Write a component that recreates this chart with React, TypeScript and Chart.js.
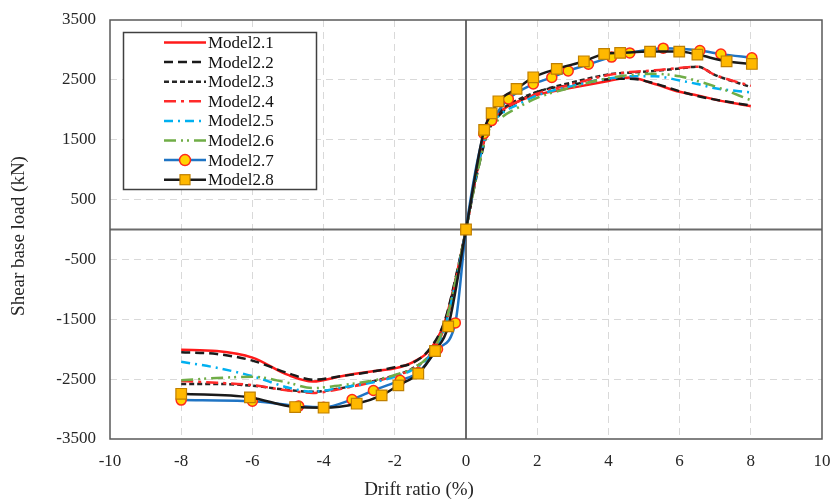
import React, { useEffect, useRef } from "react";
import { Chart, registerables } from "chart.js";

Chart.register(...registerables);

// Shared drift grid for the plain-line models (%)
const driftLines = [-8, -7, -6, -5, -4.3, -3.5, -2.5, -2, -1.5, -1, -0.6, -0.3, 0, 0.3, 0.6, 1, 1.5, 2, 3, 4, 4.6, 5.3, 6, 6.5, 7, 8];

const model21 = [-2010, -2030, -2140, -2430, -2540, -2450, -2360, -2320, -2220, -2000, -1550, -850, 0, 950, 1650, 1980, 2150, 2250, 2370, 2480, 2540, 2430, 2300, 2240, 2170, 2060];
const model22 = [-2050, -2080, -2190, -2400, -2510, -2450, -2360, -2300, -2230, -1980, -1530, -830, 0, 900, 1600, 1950, 2150, 2300, 2420, 2510, 2520, 2440, 2310, 2230, 2170, 2070];
const model23 = [-2580, -2580, -2610, -2680, -2710, -2650, -2520, -2440, -2320, -2080, -1600, -880, 0, 950, 1700, 2000, 2180, 2300, 2460, 2590, 2620, 2650, 2690, 2720, 2580, 2380];
const model24 = [-2530, -2560, -2600, -2690, -2730, -2660, -2530, -2450, -2330, -2090, -1620, -900, 0, 950, 1700, 1980, 2150, 2270, 2430, 2580, 2630, 2660, 2700, 2720, 2580, 2400];
const model25 = [-2210, -2310, -2450, -2640, -2710, -2640, -2540, -2460, -2340, -2100, -1650, -900, 0, 950, 1650, 1930, 2100, 2240, 2400, 2520, 2560, 2560, 2490, 2430, 2360, 2290];
const model26 = [-2520, -2480, -2460, -2560, -2650, -2600, -2510, -2430, -2320, -2080, -1600, -880, 0, 900, 1600, 1870, 2050, 2200, 2380, 2530, 2580, 2600, 2560, 2480, 2390, 2160];

// Marker models
const drift27 = [-8, -6, -4.7, -4, -3.2, -2.6, -1.85, -1.34, -0.8, -0.3, 0, 0.5, 0.72, 1.19, 1.89, 2.41, 2.87, 3.44, 4.09, 4.6, 5.54, 6.57, 7.16, 8.03];
const model27 = [-2850, -2870, -2950, -2970, -2840, -2690, -2520, -2390, -2000, -1560, 0, 1600, 1820, 2180, 2430, 2540, 2650, 2760, 2880, 2950, 3030, 2990, 2930, 2870];
const drift28 = [-8, -6.07, -4.8, -4.0, -3.07, -2.37, -1.9, -1.34, -0.87, -0.5, 0, 0.51, 0.72, 0.91, 1.42, 1.89, 2.55, 3.31, 3.88, 4.33, 5.17, 5.99, 6.5, 7.32, 8.03];
const model28 = [-2745, -2805, -2966, -2977, -2910, -2771, -2604, -2409, -2030, -1619, 0, 1664, 1942, 2142, 2349, 2543, 2683, 2810, 2933, 2950, 2972, 2972, 2922, 2810, 2766];

const seriesNames = ["Model2.1", "Model2.2", "Model2.3", "Model2.4", "Model2.5", "Model2.6", "Model2.7", "Model2.8"];

const xTicks = [-10, -8, -6, -4, -2, 0, 2, 4, 6, 8, 10];
const yTicks = [-3500, -2500, -1500, -500, 500, 1500, 2500, 3500];

const xTitle = "Drift ratio (%)";
const yTitle = "Shear base load (kN)";

const SERIF = '"Liberation Serif", "Times New Roman", serif';

const pts = (xs: number[], ys: number[]) => xs.map((x, i) => ({ x, y: ys[i] }));

const framePlugin = {
  id: "frameAndLegend",
  beforeDatasetsDraw(chart: any) {
    const { ctx, chartArea: a, scales } = chart;
    const x0 = scales.x.getPixelForValue(0);
    const y0 = scales.y.getPixelForValue(0);
    ctx.save();
    ctx.setLineDash([]);
    ctx.strokeStyle = "#6b6b6b";
    ctx.lineWidth = 2;
    ctx.beginPath();
    ctx.moveTo(x0, a.top);
    ctx.lineTo(x0, a.bottom);
    ctx.moveTo(a.left, y0);
    ctx.lineTo(a.right, y0);
    ctx.stroke();
    ctx.strokeStyle = "#595959";
    ctx.lineWidth = 1.5;
    ctx.strokeRect(a.left, a.top, a.right - a.left, a.bottom - a.top);
    ctx.restore();
  },
  afterDatasetsDraw(chart: any) {
    const { ctx } = chart;
    const bx = 123.5, by = 32.5, bw = 193, bh = 157;
    ctx.save();
    ctx.fillStyle = "#ffffff";
    ctx.fillRect(bx, by, bw, bh);
    ctx.strokeStyle = "#404040";
    ctx.lineWidth = 1.5;
    ctx.setLineDash([]);
    ctx.strokeRect(bx, by, bw, bh);
    const dsList = chart.data.datasets;
    dsList.forEach((ds: any, i: number) => {
      const y = 42.5 + i * 19.6;
      ctx.save();
      ctx.strokeStyle = ds.borderColor;
      ctx.lineWidth = ds.borderWidth;
      ctx.setLineDash(ds.borderDash || []);
      ctx.beginPath();
      ctx.moveTo(164, y);
      ctx.lineTo(206, y);
      ctx.stroke();
      ctx.setLineDash([]);
      if (ds.pointStyle === "circle" && ds.pointRadius > 0) {
        ctx.beginPath();
        ctx.arc(185, y, 5.5, 0, Math.PI * 2);
        ctx.fillStyle = ds.pointBackgroundColor;
        ctx.fill();
        ctx.lineWidth = ds.pointBorderWidth;
        ctx.strokeStyle = ds.pointBorderColor;
        ctx.stroke();
      } else if (ds.pointStyle === "rect" && ds.pointRadius > 0) {
        ctx.fillStyle = ds.pointBackgroundColor;
        ctx.fillRect(180, y - 5, 10, 10);
        ctx.lineWidth = ds.pointBorderWidth;
        ctx.strokeStyle = ds.pointBorderColor;
        ctx.strokeRect(180, y - 5, 10, 10);
      }
      ctx.restore();
      ctx.fillStyle = "#111111";
      ctx.font = `17px ${SERIF}`;
      ctx.textBaseline = "middle";
      ctx.textAlign = "left";
      ctx.fillText(ds.label, 208, y + 1);
    });
    ctx.restore();
  },
  afterDraw(chart: any) {
    const { ctx } = chart;
    ctx.save();
    ctx.fillStyle = "#262626";
    ctx.font = `19px ${SERIF}`;
    ctx.textAlign = "center";
    ctx.textBaseline = "middle";
    ctx.fillText(xTitle, 419, 490);
    ctx.translate(19.5, 236);
    ctx.rotate(-Math.PI / 2);
    ctx.fillText(yTitle, 0, 0);
    ctx.restore();
  },
};

export default function App() {
  const ref = useRef<HTMLCanvasElement | null>(null);

  useEffect(() => {
    document.body.style.margin = "0";
    document.documentElement.style.overflow = "hidden";
    const canvas = ref.current;
    if (!canvas) return;

    const lineDs = (label: string, data: number[], color: string, dash: number[], order: number) => ({
      label,
      data: pts(driftLines, data),
      borderColor: color,
      backgroundColor: color,
      borderWidth: 2.5,
      borderDash: dash,
      pointRadius: 0,
      pointStyle: "line",
      cubicInterpolationMode: "monotone",
      order,
    });

    const chart = new Chart(canvas, {
      type: "line",
      data: {
        datasets: [
          lineDs(seriesNames[0], model21, "#ff1a1a", [], 7),
          lineDs(seriesNames[1], model22, "#1a1a1a", [9, 5], 6),
          lineDs(seriesNames[2], model23, "#262626", [5, 3], 5),
          lineDs(seriesNames[3], model24, "#ff2a2a", [12, 5, 3, 5], 4),
          lineDs(seriesNames[4], model25, "#00b0f0", [9, 5, 2, 5], 3),
          lineDs(seriesNames[5], model26, "#70ad47", [12, 5, 2, 4, 2, 5], 2),
          {
            label: seriesNames[6],
            data: pts(drift27, model27),
            borderColor: "#1f74c4",
            backgroundColor: "#ffd700",
            borderWidth: 2.5,
            pointStyle: "circle",
            pointRadius: 5,
            pointBackgroundColor: "#ffd400",
            pointBorderColor: "#ff2a1a",
            pointBorderWidth: 1.5,
            cubicInterpolationMode: "monotone",
            order: 1,
          },
          {
            label: seriesNames[7],
            data: pts(drift28, model28),
            borderColor: "#1a1a1a",
            backgroundColor: "#ffc000",
            borderWidth: 2.5,
            pointStyle: "rect",
            pointRadius: 7.5,
            pointBackgroundColor: "#ffb800",
            pointBorderColor: "#c08000",
            pointBorderWidth: 1.2,
            cubicInterpolationMode: "monotone",
            order: 0,
          },
        ],
      },
      options: {
        animation: false,
        responsive: false,
        maintainAspectRatio: false,
        devicePixelRatio: 1,
        layout: { padding: { top: 20, right: 10, left: 0, bottom: 0 } },
        plugins: {
          legend: { display: false },
          tooltip: { enabled: false },
        },
        scales: {
          x: {
            type: "linear",
            min: -10,
            max: 10,
            afterFit: (s: any) => {
              s.height = 61;
              s.paddingLeft = 0;
              s.paddingRight = 0;
            },
            afterBuildTicks: (s: any) => {
              s.ticks = xTicks.map((v) => ({ value: v }));
            },
            ticks: {
              padding: 12,
              maxRotation: 0,
              autoSkip: false,
              color: "#262626",
              font: { family: SERIF, size: 17 },
              callback: (v: any) => String(v),
            },
            grid: {
              drawTicks: false,
              lineWidth: 1,
              color: (c: any) =>
                c.tick && (c.tick.value === 0 || Math.abs(c.tick.value) === 10) ? "rgba(0,0,0,0)" : "#d9d9d9",
            },
            border: { display: false, dash: [7, 5] },
            title: { display: false },
          },
          y: {
            type: "linear",
            min: -3500,
            max: 3500,
            afterFit: (s: any) => {
              s.width = 110;
              s.paddingTop = 0;
              s.paddingBottom = 0;
            },
            afterBuildTicks: (s: any) => {
              s.ticks = yTicks.map((v) => ({ value: v }));
            },
            ticks: {
              padding: 14,
              autoSkip: false,
              color: "#262626",
              font: { family: SERIF, size: 17 },
              callback: (v: any) => String(v),
            },
            grid: {
              drawTicks: false,
              lineWidth: 1,
              color: (c: any) =>
                c.tick && Math.abs(c.tick.value) === 3500 ? "rgba(0,0,0,0)" : "#d9d9d9",
            },
            border: { display: false, dash: [7, 5] },
            title: { display: false },
          },
        },
      } as any,
      plugins: [framePlugin],
    } as any);

    return () => {
      chart.destroy();
    };
  }, []);

  return (
    <div style={{ width: 832, height: 500, position: "relative" }}>
      <canvas ref={ref} width={832} height={500} style={{ display: "block", width: 832, height: 500 }} />
    </div>
  );
}
